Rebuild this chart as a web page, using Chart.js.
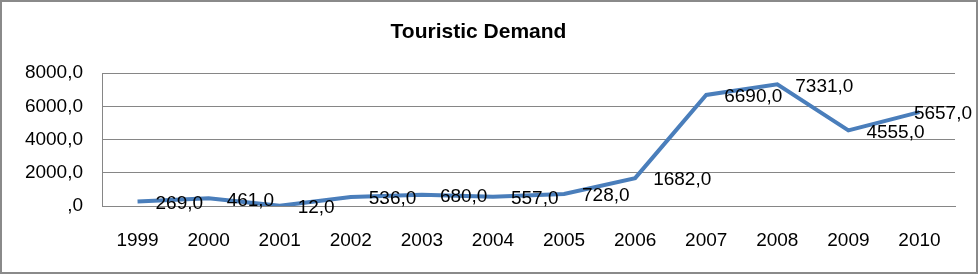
<!DOCTYPE html>
<html>
<head>
<meta charset="utf-8">
<script src="https://cdn.jsdelivr.net/npm/chart.js@4.4.0/dist/chart.umd.min.js"></script>
<style>
  html, body { margin: 0; padding: 0; background: #fff; }
  #wrap {
    width: 978px; height: 274px; box-sizing: border-box;
    border: 2px solid #8a8a8a; background: #fff;
  }
  #wrap canvas { display: block; }
</style>
</head>
<body>
<div id="wrap"><canvas id="chart" width="974" height="270"></canvas></div>
<script>
const years = ["1999", "2000", "2001", "2002", "2003", "2004", "2005", "2006", "2007", "2008", "2009", "2010"];
const demand = [269, 461, 12, 536, 680, 557, 728, 1682, 6690, 7331, 4555, 5657];
const valueLabels = ["269,0", "461,0", "12,0", "536,0", "680,0", "557,0", "728,0", "1682,0", "6690,0", "7331,0", "4555,0", "5657,0"];
const yTicks = [0, 2000, 4000, 6000, 8000];
const yTickLabels = [",0", "2000,0", "4000,0", "6000,0", "8000,0"];

const FONT = "'Liberation Sans', Arial, sans-serif";
const GRID = "#868686";

// labels to the right of each point, kept inside the frame
const pointLabels = {
  id: "pointLabels",
  afterDatasetsDraw(chart) {
    const ctx = chart.ctx;
    const meta = chart.getDatasetMeta(0);
    ctx.save();
    ctx.font = "19px " + FONT;
    ctx.fillStyle = "#000";
    ctx.textBaseline = "middle";
    ctx.textAlign = "left";
    meta.data.forEach((pt, i) => {
      const txt = valueLabels[i];
      const w = ctx.measureText(txt).width;
      let x = pt.x + 18;
      if (x + w > chart.width - 4) x = chart.width - 4 - w;
      ctx.fillText(txt, x, pt.y + 2);
    });
    ctx.restore();
  }
};

new Chart(document.getElementById("chart").getContext("2d"), {
  type: "line",
  data: {
    labels: years,
    datasets: [{
      label: "Touristic Demand",
      data: demand,
      borderColor: "#4a7ebb",
      borderWidth: 4,
      pointRadius: 0,
      tension: 0,
      fill: false
    }]
  },
  options: {
    responsive: false,
    animation: false,
    layout: { padding: { left: 0, right: 21, top: 0, bottom: 0 } },
    plugins: {
      legend: { display: false },
      tooltip: { enabled: false },
      title: {
        display: true,
        text: "Touristic Demand",
        color: "#000",
        font: { family: FONT, size: 21, weight: "bold", lineHeight: 1.2 },
        padding: { top: 18, bottom: 28 }
      }
    },
    scales: {
      x: {
        offset: true,
        grid: { display: false, drawTicks: false },
        border: { display: true, color: GRID, width: 1 },
        ticks: {
          color: "#000",
          font: { family: FONT, size: 19 },
          padding: 23,
          maxRotation: 0,
          autoSkip: false
        },
        afterFit(scale) { scale.height = 66; }
      },
      y: {
        min: 0,
        max: 8000,
        afterBuildTicks(scale) { scale.ticks = yTicks.map(v => ({ value: v })); },
        grid: { color: GRID, lineWidth: 1, drawTicks: false },
        border: { display: true, color: GRID, width: 1 },
        ticks: {
          color: "#000",
          font: { family: FONT, size: 19 },
          padding: 19,
          callback: (v) => yTickLabels[yTicks.indexOf(v)]
        },
        afterFit(scale) { scale.width = 100; }
      }
    }
  },
  plugins: [pointLabels]
});
</script>
</body>
</html>
